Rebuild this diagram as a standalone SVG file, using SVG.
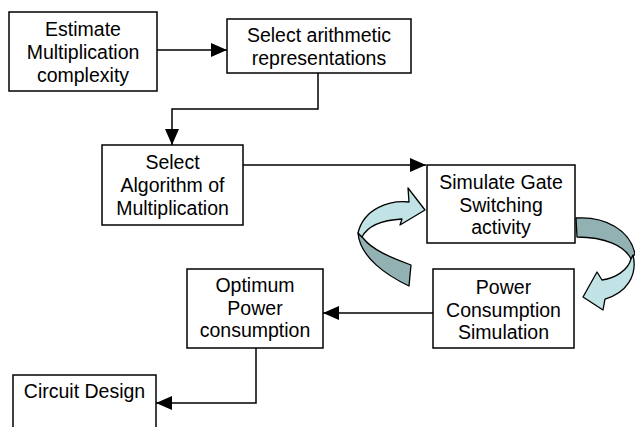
<svg xmlns="http://www.w3.org/2000/svg" width="635" height="427" viewBox="0 0 635 427">
<defs>
<style>
.box{fill:#fff;stroke:#000;stroke-width:1.5}
.t{font-family:"Liberation Sans",Arial,sans-serif;font-size:19.5px;fill:#000;text-anchor:middle}
.c{fill:none;stroke:#000;stroke-width:1.5}
.lt{fill:#c1e3e6;stroke:#000;stroke-width:1.3;stroke-linejoin:round}
.dk{fill:#92b1b3;stroke:#000;stroke-width:1.3;stroke-linejoin:round}
</style>
<marker id="ah" markerWidth="17" markerHeight="14" refX="16" refY="7" orient="auto" markerUnits="userSpaceOnUse">
<path d="M0,0 L16,7 L0,14 Z" fill="#000"/>
</marker>
</defs>
<rect width="635" height="427" fill="#fff"/>
<g id="n1"><rect class="box" x="9" y="12" width="148" height="79"/>
<text class="t" x="83" y="36">Estimate</text><text class="t" x="83" y="59">Multiplication</text><text class="t" x="83" y="82">complexity</text></g>
<g id="n2"><rect class="box" x="227" y="19" width="184" height="54"/>
<text class="t" x="319" y="42">Select arithmetic</text><text class="t" x="319" y="65">representations</text></g>
<g id="n3"><rect class="box" x="102" y="145" width="141" height="80"/>
<text class="t" x="172.5" y="169">Select</text><text class="t" x="172.5" y="192">Algorithm of</text><text class="t" x="172.5" y="215">Multiplication</text></g>
<g id="n4"><rect class="box" x="427" y="165" width="148" height="78"/>
<text class="t" x="501" y="189">Simulate Gate</text><text class="t" x="501" y="212">Switching</text><text class="t" x="501" y="234">activity</text></g>
<g id="n5"><rect class="box" x="433" y="269" width="141" height="79"/>
<text class="t" x="503.5" y="294">Power</text><text class="t" x="503.5" y="317">Consumption</text><text class="t" x="503.5" y="339">Simulation</text></g>
<g id="n6"><rect class="box" x="187" y="269" width="136" height="79"/>
<text class="t" x="255" y="292">Optimum</text><text class="t" x="255" y="315">Power</text><text class="t" x="255" y="337">consumption</text></g>
<g id="n7"><rect class="box" x="13" y="375" width="143" height="60"/>
<text class="t" x="84.5" y="398">Circuit Design</text></g>
<g id="connectors">
<path class="c" d="M157,50 L227,50" marker-end="url(#ah)"/>
<path class="c" d="M318,73 L318,109 L172,109 L172,145" marker-end="url(#ah)"/>
<path class="c" d="M243,165 L426,165" marker-end="url(#ah)"/>
<path class="c" d="M433,313 L323,313" marker-end="url(#ah)"/>
<path class="c" d="M256,348 L256,403 L156,403" marker-end="url(#ah)"/>
</g>
<g id="cycle-arrows">
<path class="dk" d="M358,233 C360,258 388,276 409,286 L411,265 C392,258 372,250 363,238 Z"/>
<path class="lt" d="M358,233 C364,208 390,200 409,202 L408,188 L425,210 L400,225 L402,219 C385,220 368,225 362,237 Z"/>
<path class="dk" d="M576,218 C605,216 630,230 635,254 L631,259 C625,246 605,237 577,237 Z"/>
<path class="lt" d="M633,255 C638,276 626,293 605,299 L603,310 L583,297 L597,272 L602,280 C616,278 628,270 631,259 Z"/>
</g>
</svg>
